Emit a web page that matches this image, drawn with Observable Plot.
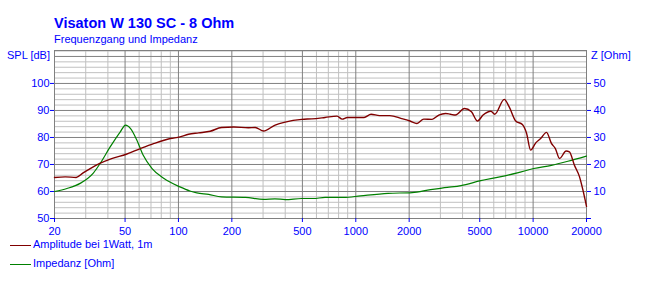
<!DOCTYPE html>
<html><head><meta charset="utf-8">
<script src="https://cdn.jsdelivr.net/npm/d3@7"></script>
<script src="https://cdn.jsdelivr.net/npm/@observablehq/plot@0.6"></script>
<style>
body{margin:0;background:#fff;}
#wrap{position:relative;width:668px;height:282px;font-family:"Liberation Sans",Arial,sans-serif;color:#0000ff;overflow:hidden;}
.t{position:absolute;white-space:nowrap;line-height:1;}
.sw{position:absolute;height:0;width:21px;}
#wrap svg{position:absolute;left:0;top:0;}
</style></head><body><div id="wrap"></div>
<script>
const title = "Visaton W 130 SC - 8 Ohm";
const subtitle = "Frequenzgang und Impedanz";
const leftLabel = "SPL [dB]";
const rightLabel = "Z [Ohm]";
const seriesNames = ["Amplitude bei 1Watt, 1m", "Impedanz [Ohm]"];
const seriesColors = ["#800000", "#008000"];

const ampFreq = [20,23,26.5,29,31.8,36,42,50.8,61,73,90,102,114,130,151,175,205,248,271,302,351,400,496,565,671,783,838,896,1114,1219,1361,1555,1813,2022,2213,2416,2693,2938,3210,3420,3650,4100,4490,4860,5220,5780,6080,6870,7330,7980,8700,9190,9680,10350,11030,11900,12680,13350,14100,15350,16020,17100,18270,19100,20000];
const ampDb   = [65.2,65.4,65.2,66.9,68.5,70.4,72.2,73.8,75.9,77.8,79.6,80.2,81.2,81.7,82.3,83.7,83.9,83.6,83.7,82.4,84.6,85.7,86.7,86.9,87.4,87.9,86.8,87.4,87.4,88.6,88.1,88.1,87.0,86.1,85.2,86.8,86.7,88.3,88.9,88.6,88.3,90.7,89.5,86.1,88.3,89.7,88.6,94.1,91.3,86.1,84.8,81.5,75.3,78.0,79.6,81.9,77.8,75.9,72.2,75.0,74.7,69.7,65.4,60.5,54.5];

const impFreq = [20,23.5,27.9,33.2,36.2,41.2,47,50.3,53.7,58.3,63.3,71,82.9,102,116,127,148,175,239,302,350,400,496,575,671,857,1064,1520,2080,2640,3280,3920,5070,6490,8150,10080,12680,15700,20000];
const impOhm  = [10.0,11.1,13.0,16.9,20.4,26.5,32.1,34.6,33.3,29.0,23.4,18.5,14.8,11.7,10.2,9.5,8.9,8.0,7.8,7.1,7.3,7.0,7.4,7.4,7.8,7.8,8.4,9.3,9.6,10.7,11.5,12.2,14.0,15.4,16.9,18.5,19.7,21.2,23.1];

const xTickValues = [20,50,100,200,500,1000,2000,5000,10000,20000];
const splTickValues = [50,60,70,80,90,100];
const zTickValues = [0,10,20,30,40,50];

const amp = ampFreq.map((f,i)=>({f, v: ampDb[i]}));
const imp = impFreq.map((f,i)=>({f, v: impOhm[i]}));

// grid positions
const gridX = [];
for (const dec of [10,100,1000,10000]) for (let k=1;k<=9;k++){const v=k*dec; if(v>=20&&v<=20000) gridX.push(v);}
const majorX = gridX.filter(v => xTickValues.includes(v));
const minorX = gridX.filter(v => !xTickValues.includes(v));
const gridY = d3.range(50, 113, 2);
const majorY = gridY.filter(v => v % 10 === 0);
const minorY = gridY.filter(v => v % 10 !== 0);

const zOffset = 50; // Z axis = SPL - 50
const yMin = 50;

const chart = Plot.plot({
  width: 668, height: 282,
  marginLeft: 54, marginRight: 82, marginTop: 50, marginBottom: 64,
  style: {fontFamily: '"Liberation Sans", Arial, sans-serif', fontSize: "11px", color: "#0000ff", background: "transparent"},
  x: {type: "log", domain: [20, 20000], axis: null},
  y: {domain: [yMin, 112.2], axis: null},
  marks: [
    Plot.ruleX(minorX, {stroke: "#c0c0c0"}),
    Plot.ruleY(minorY, {stroke: "#c0c0c0"}),
    Plot.ruleX(majorX, {stroke: "#808080"}),
    Plot.ruleY(majorY, {stroke: "#808080"}),
    Plot.frame({stroke: "#808080"}),
    Plot.line(imp, {x: "f", y: d => d.v + zOffset, stroke: seriesColors[1], strokeWidth: 1.2, curve: "monotone-x"}),
    Plot.line(amp, {x: "f", y: "v", stroke: seriesColors[0], strokeWidth: 1.4, curve: "monotone-x"}),
    // bottom axis: tick marks and labels
    Plot.ruleX(xTickValues, {x: d => d, y1: yMin, y2: yMin, insetBottom: -4, stroke: "#0000ff", clip: false}),
    Plot.text(xTickValues, {x: d => d, frameAnchor: "bottom", lineAnchor: "top", dy: 9, text: d => String(d), fill: "#0000ff"}),
    Plot.axisY(splTickValues, {anchor: "left", tickSize: 4, tickPadding: 1, tickFormat: d => String(d), label: null}),
    Plot.axisY(zTickValues.map(z => z + zOffset), {anchor: "right", tickSize: 4, tickPadding: 3, tickFormat: d => d === zOffset ? "" : String(d - zOffset), label: null})
  ]
});

const wrap = document.getElementById("wrap");
wrap.appendChild(chart);

function addText(txt, left, top, size, bold){
  const d = document.createElement("div");
  d.className = "t";
  d.textContent = txt;
  d.style.left = left + "px"; d.style.top = top + "px";
  d.style.fontSize = size + "px";
  if (bold) d.style.fontWeight = "bold";
  wrap.appendChild(d);
}
addText(title, 54, 16, 14.5, true);
addText(subtitle, 54, 34, 11, false);
addText(leftLabel, 7, 50, 11, false);
addText(rightLabel, 591, 50, 11, false);
seriesNames.forEach((name, i) => {
  const y = 245 + i * 19;
  const sw = document.createElement("div");
  sw.className = "sw";
  sw.style.left = "10px"; sw.style.top = y + "px";
  sw.style.borderTop = "1px solid " + seriesColors[i];
  wrap.appendChild(sw);
  addText(name, 33, y - 6, 11, false);
});
</script></body></html>
